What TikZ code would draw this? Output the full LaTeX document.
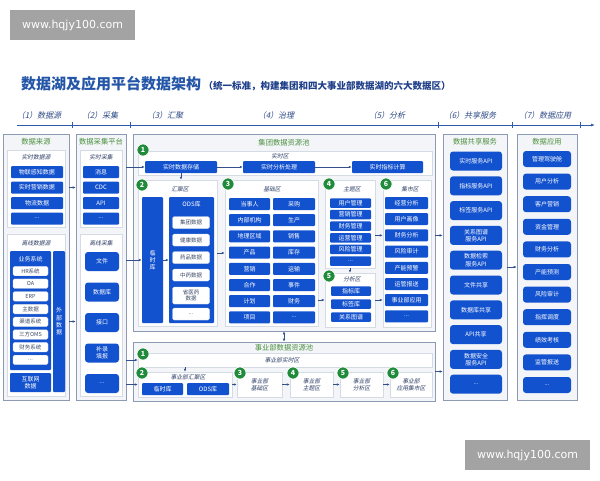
\documentclass[tikz,border=0pt]{standalone}
\usepackage{fontspec}
\setmainfont{Noto Sans CJK SC}
\newfontfamily\itf[FakeSlant=0.22]{Noto Sans CJK SC}
\newfontfamily\wmf{DejaVu Sans}
\usetikzlibrary{arrows.meta}
\definecolor{bblue}{HTML}{1352CF}
\definecolor{bgreen}{HTML}{1F8B3B}
\definecolor{tgreen}{HTML}{4A8F3C}
\definecolor{bordc}{HTML}{8C9AB3}
\definecolor{outfill}{HTML}{F3F5F9}
\definecolor{inbord}{HTML}{D5DBE5}
\definecolor{wtext}{HTML}{3B4A66}
\definecolor{zcol}{HTML}{2E3F66}
\definecolor{acol}{HTML}{33508C}
\definecolor{titblue}{HTML}{2456A8}
\definecolor{subblue}{HTML}{1F3F8A}
\definecolor{hcol}{HTML}{2D4A85}
\definecolor{axcol}{HTML}{2E5CA8}
\definecolor{wmgray}{HTML}{A3A3A3}
\newcommand{\fz}[1]{\fontsize{#1}{\dimexpr#1pt*6/5\relax}\selectfont}
\newcommand{\dd}{...}
\newcommand{\rbx}[7]{\node[#2, minimum width={(#5)-(#3)}, minimum height={(#6)-(#4)}] (#1) at ({((#3)+(#5))/2},{((#4)+(#6))/2}) {#7};}
\tikzset{
 outer/.style={draw=bordc, fill=outfill, line width=0.6pt, inner sep=0},
 inbox/.style={draw=inbord, fill=white, line width=0.5pt, inner sep=0},
 bz/.style={inbox, font=\itf\fz{5.8}, text=zcol, align=center},
 bb/.style={fill=bblue, text=white, inner sep=0, align=center, font=\fz{6}, rounded corners=1pt},
 bbr/.style={bb, rounded corners=3pt},
 wb/.style={fill=white, draw=inbord, line width=0.3pt, text=wtext, inner sep=0, align=center, font=\fz{5.5}, rounded corners=1.5pt},
 badge/.style={circle, fill=bgreen, draw=white, line width=0.6pt, text=white, font=\fz{7}\bfseries, minimum size=12pt, inner sep=0},
 zlab/.style={font=\itf\fz{5.8}, text=zcol, inner sep=0},
 gtit/.style={font=\fz{7.3}, text=tgreen, inner sep=0},
 arr/.style={draw=acol, line width=0.6pt, -{Latex[length=3pt,width=2.6pt]}},
 hdr/.style={font=\itf\fz{8}, text=hcol, inner sep=0},
 wm/.style={fill=wmgray, text=white, font=\wmf\fz{11}, minimum width=125pt, minimum height=30pt, inner sep=0},
}
\begin{document}
\begin{tikzpicture}[x=1pt,y=-1pt]
\useasboundingbox (0,0) rectangle (600,480);
\fill[white] (0,0) rectangle (600,480);
% watermarks
\node[wm] (wm1) at (72.5,25) {www.hqjy100.com};
\node[wm] (wm2) at (527.5,455) {www.hqjy100.com};
% title
\node[anchor=base west, font=\bfseries\fz{15}, text=titblue, inner sep=0] (title) at (21,89) {数据湖及应用平台数据架构};
\node[anchor=base west, font=\bfseries\fz{9.5}, text=subblue, inner sep=0] (subt) at ([xshift=2pt]title.base east) {（统一标准，构建集团和四大事业部数据湖的六大数据区）};
% header
\node[hdr] (h1) at (39,115) {（1）数据源};
\node[hdr] (h2) at (100,115) {（2）采集};
\node[hdr] (h3) at (165,115) {（3）汇聚};
\node[hdr] (h4) at (276,115) {（4）治理};
\node[hdr] (h5) at (387,115) {（5）分析};
\node[hdr] (h6) at (470,115) {（6）共享服务};
\node[hdr] (h7) at (545,115) {（7）数据应用};
\coordinate (axL) at (17,125);
\coordinate (axR) at (595,125);
\draw[axcol, line width=0.8pt, -{Latex[length=4pt,width=3pt]}] (axL) -- (axR);
\foreach \x in {72.5,130,438,512,580} \draw[axcol, line width=0.6pt] (\x,122) -- (\x,128);
% column 1
\rbx{col1}{outer}{3}{134}{69}{400}{}
\node[gtit] (col1t) at (36,142) {数据来源};
\rbx{c1rt}{inbox}{7}{150}{65}{227}{}
\node[zlab] (c1rtl) at (36,157.5) {实时数据源};
\foreach \t [count=\i] in {物联感知数据,实时营销数据,物流数据,\dd}
  \node[bb, minimum width=52pt, minimum height=12pt] (c1a\i) at (37,{172+(\i-1)*15.5}) {\t};
\rbx{c1off}{inbox}{7}{234}{65}{396}{}
\node[zlab] (c1offl) at (36,243) {离线数据源};
\rbx{biz}{bb}{10}{251}{51}{370}{}
\node[font=\fz{6}, text=white, inner sep=0] (bizt) at (30.5,259) {业务系统};
\foreach \t [count=\i] in {HR系统,OA,ERP,主数据,渠道系统,三方OMS,财务系统,\dd}
  \node[wb, minimum width=35pt, minimum height=9.5pt] (biz\i) at (30.5,{271+(\i-1)*12.7}) {\t};
\rbx{ext}{bb}{53}{251}{65}{392}{外\\部\\数\\据}
\rbx{net}{bb}{10}{373}{51}{392}{互联网\\数据}
% column 2
\rbx{col2}{outer}{76}{134}{126}{400}{}
\node[gtit] (col2t) at (101,142) {数据采集平台};
\rbx{c2rt}{inbox}{80}{150}{122}{227}{}
\node[zlab] (c2rtl) at (101,157.5) {实时采集};
\foreach \t [count=\i] in {消息,CDC,API,\dd}
  \node[bb, minimum width=36pt, minimum height=12pt] (c2a\i) at (101,{172+(\i-1)*15.5}) {\t};
\rbx{c2off}{inbox}{80}{234}{122}{396}{}
\node[zlab] (c2offl) at (101,243) {离线采集};
\foreach \t [count=\i] in {文件,数据库,接口,{补录\\填报},\dd}
  \node[bbr, minimum width=34pt, minimum height=19pt] (c2b\i) at (102,{261.5+(\i-1)*30.5}) {\t};
% group pool
\rbx{pool}{outer}{133}{134}{435}{331}{}
\node[gtit] (poolt) at (284,143) {集团数据资源池};
\rbx{rtz}{inbox}{138}{151}{432}{175}{}
\node[zlab] (rtzl) at (280,156) {实时区};
\rbx{ss1}{bb}{145}{161}{217}{173}{实时数据存储}
\rbx{ss2}{bb}{243}{161}{315}{173}{实时分析处理}
\rbx{ss3}{bb}{352}{161}{423}{173}{实时指标计算}
\node[badge] (bd1) at (143,150) {1};
% huiju
\rbx{hj}{inbox}{138}{180}{217}{326}{}
\node[zlab] (hjl) at (180,189) {汇聚区};
\rbx{tmp}{bb}{142}{197}{163}{323}{临\\时\\库}
\rbx{ods}{bb}{169}{197}{214}{323}{}
\node[font=\fz{6}, text=white, inner sep=0] (odsl) at (191.5,204) {ODS库};
\foreach \t [count=\i] in {集团数据,健康数据,药品数据,中药数据}
  \node[wb, minimum width=37pt, minimum height=12pt] (od\i) at (191,{222.5+(\i-1)*17.5}) {\t};
\node[wb, minimum width=37pt, minimum height=17pt] (od5) at (191,295.5) {省医药\\数据};
\node[wb, minimum width=37pt, minimum height=12pt] (od6) at (191,314) {\dd};
\node[badge] (bd2) at (142,185) {2};
% jichu
\rbx{jc}{inbox}{225}{180}{318}{326}{}
\node[zlab] (jcl) at (272,189) {基础区};
\foreach \t [count=\i] in {当事人,内部机构,地理区域,产品,营销,合作,计划,项目}
  \node[bb, minimum width=41pt, minimum height=12pt] (jca\i) at (249.5,{204+(\i-1)*16.2}) {\t};
\foreach \t [count=\i] in {采购,生产,销售,库存,运输,事件,财务,\dd}
  \node[bb, minimum width=42pt, minimum height=12pt] (jcb\i) at (294,{204+(\i-1)*16.2}) {\t};
\node[badge] (bd3) at (228,184) {3};
% zhuti
\rbx{zt}{inbox}{325}{180}{375}{268}{}
\node[zlab] (ztl) at (352,189) {主题区};
\foreach \t [count=\i] in {用户管理,营销管理,财务管理,运营管理,风险管理,\dd}
  \node[bb, minimum width=41pt, minimum height=9.5pt] (zt\i) at (350.5,{203+(\i-1)*11.6}) {\t};
\node[badge] (bd4) at (329,184) {4};
% fenxi
\rbx{fx}{inbox}{325}{273}{375}{327}{}
\node[zlab] (fxl) at (352,279) {分析区};
\foreach \t [count=\i] in {指标库,标签库,关系图谱}
  \node[bb, minimum width=40pt, minimum height=9.5pt] (fx\i) at (351,{291+(\i-1)*13}) {\t};
\node[badge] (bd5) at (329,276) {5};
% jishi
\rbx{js}{inbox}{383}{180}{431}{327}{}
\node[zlab] (jsl) at (410,189) {集市区};
\foreach \t [count=\i] in {经营分析,用户画像,财务分析,风险审计,产能预警,运管报送,事业部应用,\dd}
  \node[bb, minimum width=43pt, minimum height=12pt] (js\i) at (406.5,{203+(\i-1)*16.2}) {\t};
\node[badge] (bd6) at (386,184) {6};
% division pool
\rbx{bpool}{outer}{133}{342}{435}{401}{}
\node[gtit] (bpoolt) at (284,348) {事业部数据资源池};
\rbx{bss}{inbox}{138}{353}{432}{367}{}
\node[zlab] (bssl) at (282,360) {事业部实时区};
\rbx{bhj}{inbox}{138}{372}{232}{397}{}
\node[zlab] (bhjl) at (188,377.5) {事业部汇聚区};
\rbx{btmp}{bb}{142}{383}{183}{395}{临时库}
\rbx{bods}{bb}{187}{383}{229}{395}{ODS库}
\rbx{b3}{bz}{237}{372}{282}{397}{事业部\\基础区}
\rbx{b4}{bz}{290}{372}{333}{397}{事业部\\主题区}
\rbx{b5}{bz}{340}{372}{383}{397}{事业部\\分析区}
\rbx{b6}{bz}{390}{372}{432}{397}{事业部\\应用集市区}
\node[badge] (bb1) at (143,354) {1};
\node[badge] (bb2) at (142,373) {2};
\node[badge] (bb3) at (240,373) {3};
\node[badge] (bb4) at (293,373) {4};
\node[badge] (bb5) at (343,373) {5};
\node[badge] (bb6) at (393,373) {6};
% share
\rbx{share}{outer}{443}{134}{507}{400}{}
\node[gtit] (sharet) at (475,142) {数据共享服务};
\foreach \t [count=\i] in {实时服务API,指标服务API,标签服务API,{关系图谱\\服务API},{数据检索\\服务API},文件共享,数据库共享,API共享,{数据安全\\服务API},\dd}
  \node[bbr, minimum width=52pt, minimum height=19pt] (sh\i) at (476,{161+(\i-1)*24.8}) {\t};
% app
\rbx{app}{outer}{517}{134}{577}{400}{}
\node[gtit] (appt) at (547,141.5) {数据应用};
\foreach \t [count=\i] in {管理驾驶舱,用户分析,客户营销,资金管理,财务分析,产能预测,风险审计,指挥调度,绩效考核,监管报送,\dd}
  \node[bbr, minimum width=48pt, minimum height=16pt] (ap\i) at (547,{159+(\i-1)*22.6}) {\t};
% connectors
\draw[arr] (col1.east |- c1a2) -- (c1a2 -| col2.west);
\draw[arr] (col1.east |- ext) -- (ext -| col2.west);
\draw[arr] (col2.east |- ss1) -- (ss1.west);
\draw[arr] (col2.east |- tmp) -- (tmp.west);
\draw[arr] (ss1.east) -- (ss2.west);
\draw[arr] (ss2.east) -- (ss3.west);
\draw[arr] (ss1.south) -- (ss1.south |- hj.north);
\draw[arr] (tmp.east) -- (tmp.east -| ods.west);
\draw[arr] (hj.east) -- (hj.east -| jc.west);
\draw[arr] (jc.east |- fx) -- (fx.west);
\draw[arr] (zt.south) -- (fx.north);
\draw[arr] (zt.east |- js3) -- (js3 -| js.west);
\draw[arr] (fx.east) -- (fx.east -| js.west);
\draw[arr] (pool.east |- js3) -- (js3 -| share.west);
\draw[arr, {Latex[length=3pt,width=2.6pt]}-{Latex[length=3pt,width=2.6pt]}] (pool.south) -- (bpool.north);
\draw[arr] (col2.east |- bss) -- (bss.west);
\draw[arr] (col2.east |- bhj) -- (bhj.west);
\draw[arr] (bss.south -| bhj) -- (bhj.north);
\draw[arr] (bhj.east) -- (b3.west);
\draw[arr] (b3.east) -- (b4.west);
\draw[arr] (b4.east) -- (b5.west);
\draw[arr] (b5.east) -- (b6.west);
\draw[arr] (bpool.east) -- (bpool.east -| share.west);
\draw[arr] (share.east) -- (share.east -| app.west);
\end{tikzpicture}
\end{document}
